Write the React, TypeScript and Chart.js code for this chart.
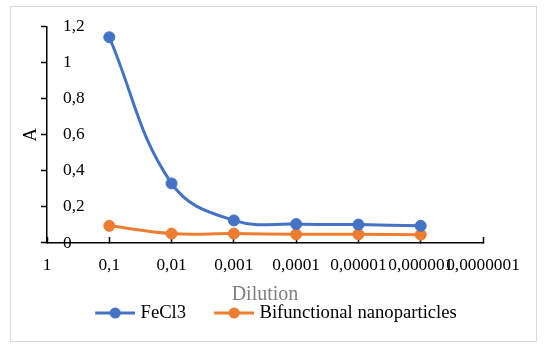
import { useEffect, useRef } from 'react';
import { Chart, registerables } from 'chart.js';

Chart.register(...registerables);

const categories = ['1', '0,1', '0,01', '0,001', '0,0001', '0,00001', '0,000001', '0,0000001'];
const fecl3Values = [null, 1.14, 0.33, 0.125, 0.105, 0.102, 0.095, null];
const nanoValues = [null, 0.095, 0.052, 0.052, 0.048, 0.048, 0.046, null];
const yTickLabels = ['0', '0,2', '0,4', '0,6', '0,8', '1', '1,2'];
const seriesNames = ['FeCl3', 'Bifunctional nanoparticles'];
const seriesColors = ['#4472C4', '#ED7D31'];

const FAMILY = '"Liberation Serif", "Times New Roman", serif';

function makeLegendImage(color: string): HTMLCanvasElement {
  const c = document.createElement('canvas');
  c.width = 72;
  c.height = 14;
  const ctx = c.getContext('2d')!;
  ctx.strokeStyle = color;
  ctx.lineWidth = 3;
  ctx.beginPath();
  ctx.moveTo(32, 7);
  ctx.lineTo(72, 7);
  ctx.stroke();
  ctx.fillStyle = color;
  ctx.beginPath();
  ctx.arc(52, 7, 5.5, 0, Math.PI * 2);
  ctx.fill();
  return c;
}

const framePlugin = {
  id: 'frame',
  beforeDraw(chart: any) {
    const { ctx } = chart;
    ctx.save();
    ctx.fillStyle = '#ffffff';
    ctx.fillRect(0, 0, chart.width, chart.height);
    ctx.strokeStyle = '#d9d9d9';
    ctx.lineWidth = 1;
    ctx.strokeRect(10.5, 6.5, 526, 335);
    ctx.restore();
  },
};

export default function App() {
  const ref = useRef<HTMLCanvasElement>(null);

  useEffect(() => {
    const legendImages = seriesColors.map((c) => makeLegendImage(c));
    const seriesData = [fecl3Values, nanoValues];
    const chart = new Chart(ref.current as HTMLCanvasElement, {
      type: 'line',
      data: {
        labels: categories,
        datasets: seriesNames.map((name, i) => ({
          label: name,
          data: seriesData[i],
          borderColor: seriesColors[i],
          backgroundColor: seriesColors[i],
          borderWidth: 3,
          pointRadius: 5.5,
          pointBorderWidth: 1,
          pointBackgroundColor: seriesColors[i],
          pointBorderColor: seriesColors[i],
          tension: 0.4,
          fill: false,
          spanGaps: false,
        })),
      },
      plugins: [framePlugin],
      options: {
        responsive: false,
        animation: false,
        events: [],
        layout: { padding: { left: 10, right: 32, top: 23, bottom: 19.67 } },
        plugins: {
          tooltip: { enabled: false },
          legend: {
            position: 'bottom',
            align: 'center',
            labels: {
              usePointStyle: true,
              pointStyleWidth: 64,
              padding: 0,
              color: '#000000',
              font: { family: FAMILY, size: 18.67 },
              generateLabels: (ch: any) =>
                ch.data.datasets.map((ds: any, i: number) => ({
                  text: ds.label,
                  fillStyle: ds.backgroundColor,
                  strokeStyle: ds.borderColor,
                  lineWidth: 0,
                  hidden: false,
                  datasetIndex: i,
                  pointStyle: legendImages[i],
                  fontColor: '#000000',
                })),
            },
          },
        },
        scales: {
          x: {
            type: 'category',
            offset: false,
            grid: {
              drawOnChartArea: false,
              drawTicks: true,
              tickLength: -6,
              tickColor: '#000000',
              tickWidth: 1.5,
            },
            border: { display: true, color: '#000000', width: 1.5 },
            ticks: {
              autoSkip: false,
              maxRotation: 0,
              minRotation: 0,
              padding: 17.75,
              color: '#000000',
              font: { family: FAMILY, size: 17.33 },
            },
            title: {
              display: true,
              text: 'Dilution',
              color: '#7f7f7f',
              font: { family: FAMILY, size: 20, lineHeight: 0.9 },
              padding: 0,
            },
            afterFit: (s: any) => {
              s.height = 60.67;
              s.paddingRight = 63;
            },
          },
          y: {
            min: 0,
            max: 1.2,
            grid: {
              drawOnChartArea: false,
              drawTicks: true,
              tickLength: 6,
              tickColor: '#000000',
              tickWidth: 1.5,
            },
            border: { display: true, color: '#000000', width: 1.5 },
            ticks: {
              stepSize: 0.2,
              mirror: true,
              padding: 16,
              color: '#000000',
              font: { family: FAMILY, size: 17.33 },
              callback: (_v: any, i: number) => yTickLabels[i],
            },
            title: {
              display: true,
              text: 'A',
              color: '#000000',
              font: { family: FAMILY, size: 18.67 },
              padding: { top: 9.8, bottom: 0 },
            },
            afterFit: (s: any) => {
              s.width = 37;
            },
          },
        },
      } as any,
    });
    return () => chart.destroy();
  }, []);

  return (
    <div style={{ position: 'absolute', left: 0, top: 0, width: 546, height: 352, background: '#ffffff' }}>
      <canvas ref={ref} width={546} height={352} style={{ display: 'block', width: 546, height: 352 }} />
    </div>
  );
}
